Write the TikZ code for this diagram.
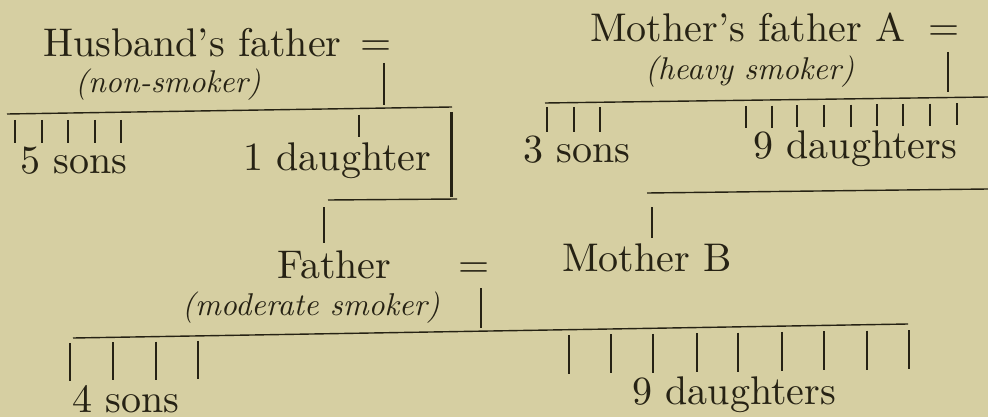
\documentclass[tikz,border=0pt]{standalone}
\usepackage{fontspec}
\setmainfont{lmroman10-regular.otf}[ItalicFont=lmroman10-italic.otf, Ligatures=TeX]
\definecolor{bgc}{RGB}{214,207,162}
\definecolor{inkc}{RGB}{38,34,20}
\begin{document}
\begin{tikzpicture}[x=1pt,y=-1pt,
  ink/.style={draw=inkc, line width=1.4pt},
  heavyline/.style={draw=inkc, line width=3pt},
  big/.style={inner sep=0pt, anchor=base west, text=inkc, font=\fontsize{40}{48}\selectfont},
  small/.style={inner sep=0pt, anchor=base west, text=inkc, font=\fontsize{31.5}{37}\selectfont\itshape},
]
\fill[bgc] (0,0) rectangle (988,417);
\useasboundingbox (0,0) rectangle (988,417);

% ---- texts
\node[big]   (hf)  at (43,57)   {Husband's father};
\node[big]   (eq1) at (360,56)  {=};
\node[small] (hfs) at (75,93)   {(non-smoker)};
\node[big]   (s5)  at (20,173)  {5 sons};
\node[big]   (d1)  at (243,171) {1 daughter};
\node[big]   (mf)  at (590,42)  {Mother's father A};
\node[big]   (eq2) at (928,41)  {=};
\node[small] (mfs) at (645,80)  {(heavy smoker)};
\node[big]   (s3)  at (523,162) {3 sons};
\node[big]   (d9a) at (753,158) {9 daughters};
\node[big]   (fa)  at (277,278) {Father};
\node[big]   (eq3) at (458,277) {=};
\node[big]   (mo)  at (562,271) {Mother B};
\node[small] (fas) at (182,315) {(moderate smoker)};
\node[big]   (s4)  at (72,412)  {4 sons};
\node[big]   (d9b) at (632,404) {9 daughters};

% ---- husband's father's family
\coordinate (hdA) at (384,63);  \coordinate (hdB) at (384,105);
\draw[ink] (hdA) -- (hdB);
\coordinate (hlL) at (7,114);   \coordinate (hlR) at (452,107);
\draw[ink] (hlL) -- (hlR);
\foreach \x [count=\i] in {15,42,68,95,121} {
  \coordinate (hsT\i) at (\x,120); \coordinate (hsB\i) at (\x,143);
  \draw[ink] (hsT\i) -- (hsB\i);
}
\coordinate (hdT) at (359,115); \coordinate (hdD) at (359,137);
\draw[ink] (hdT) -- (hdD);
\coordinate (brT) at (451,112); \coordinate (brB) at (451,197);
\draw[heavyline] (brT) -- (brB);
\coordinate (bbL) at (328,200); \coordinate (bbR) at (457,199);
\draw[ink] (bbL) -- (bbR);
\coordinate (fvT) at (324,207); \coordinate (fvB) at (324,243);
\draw[ink] (fvT) -- (fvB);

% ---- mother's father's family
\coordinate (mdA) at (948,52);  \coordinate (mdB) at (948,92);
\draw[ink] (mdA) -- (mdB);
\coordinate (mlL) at (545,103); \coordinate (mlR) at (988,97);
\draw[ink] (mlL) -- (mlR);
\foreach \x [count=\i] in {547,574,600} {
  \coordinate (msT\i) at (\x,107); \coordinate (msB\i) at (\x,132);
  \draw[ink] (msT\i) -- (msB\i);
}
\foreach \x [count=\i] in {746,772,797,824,851,877,903,930,957} {
  \pgfmathsetmacro{\yt}{106-(\x-746)*0.013}
  \coordinate (mdT\i) at (\x,\yt); \coordinate (mdD\i) at (\x,\yt+22);
  \draw[ink] (mdT\i) -- (mdD\i);
}
\coordinate (mbL) at (647,193); \coordinate (mbR) at (988,189);
\draw[ink] (mbL) -- (mbR);
\coordinate (mvT) at (652,207); \coordinate (mvB) at (652,238);
\draw[ink] (mvT) -- (mvB);

% ---- father and mother's family
\coordinate (cdA) at (481,288); \coordinate (cdB) at (481,328);
\draw[ink] (cdA) -- (cdB);
\coordinate (clL) at (73,338);  \coordinate (clR) at (908,324);
\draw[ink] (clL) -- (clR);
\foreach \x [count=\i] in {70,113,156,198} {
  \pgfmathsetmacro{\yt}{343-(\x-70)*0.016}
  \coordinate (csT\i) at (\x,\yt); \coordinate (csB\i) at (\x,\yt+38);
  \draw[ink] (csT\i) -- (csB\i);
}
\foreach \x [count=\i] in {569,611,653,697,738,782,824,867,909} {
  \pgfmathsetmacro{\yt}{335-(\x-569)*0.0147}
  \coordinate (cdT\i) at (\x,\yt); \coordinate (cdD\i) at (\x,\yt+39);
  \draw[ink] (cdT\i) -- (cdD\i);
}
\end{tikzpicture}
\end{document}
